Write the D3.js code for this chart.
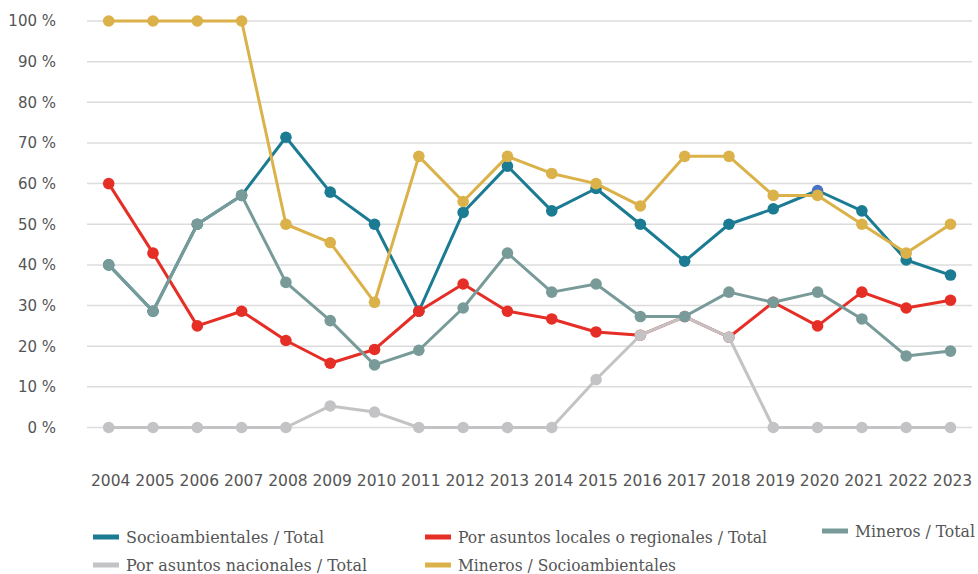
<!DOCTYPE html>
<html><head><meta charset="utf-8">
<script src="https://cdn.jsdelivr.net/npm/d3@7"></script>
<style>body{margin:0;background:#fff}svg{display:block}</style>
</head><body>
<svg id="c" width="978" height="574"></svg>
<script>
const years = [2004,2005,2006,2007,2008,2009,2010,2011,2012,2013,2014,2015,2016,2017,2018,2019,2020,2021,2022,2023];
const yTicks = [0,10,20,30,40,50,60,70,80,90,100];
const socioTotal   = [40,28.6,50,57.1,71.4,57.9,50,28.6,52.9,64.3,53.3,58.8,50,40.9,50,53.8,58.3,53.3,41.2,37.5];
const localesTotal = [60,42.9,25,28.6,21.4,15.8,19.2,28.6,35.3,28.6,26.7,23.5,22.7,27.3,22.2,30.8,25,33.3,29.4,31.3];
const nacionalesTotal = [0,0,0,0,0,5.3,3.8,0,0,0,0,11.8,22.7,27.3,22.2,0,0,0,0,0];
const minerosTotal = [40,28.6,50,57.1,35.7,26.3,15.4,19.0,29.4,42.9,33.3,35.3,27.3,27.3,33.3,30.8,33.3,26.7,17.6,18.8];
const minerosSocio = [100,100,100,100,50,45.5,30.8,66.7,55.6,66.7,62.5,60,54.5,66.7,66.7,57.1,57.1,50,42.9,50];
const seriesNames = ["Socioambientales / Total","Por asuntos locales o regionales / Total","Mineros / Total","Por asuntos nacionales / Total","Mineros / Socioambientales"];

const colors = {teal:"#1a7b93", red:"#e52e26", grey:"#789b99", light:"#c3c3c5", yellow:"#dbb24a"};
const series = [
  {name:seriesNames[0], values:socioTotal, color:colors.teal, special:{16:"#4a74c3"}},
  {name:seriesNames[1], values:localesTotal, color:colors.red},
  {name:seriesNames[3], values:nacionalesTotal, color:colors.light},
  {name:seriesNames[2], values:minerosTotal, color:colors.grey},
  {name:seriesNames[4], values:minerosSocio, color:colors.yellow}
];

const svg = d3.select("#c");
const x = d3.scalePoint().domain(years).range([108.7, 950.5]);
const y = d3.scaleLinear().domain([0,100]).range([427.5, 21]);

// grid
svg.append("g").selectAll("line").data(yTicks).join("line")
  .attr("x1",87).attr("x2",972).attr("y1",d=>y(d)).attr("y2",d=>y(d))
  .attr("stroke","#dcdcdc").attr("stroke-width",1.5);

// y labels
svg.append("g").selectAll("text").data(yTicks).join("text")
  .attr("x",56).attr("y",d=>y(d)).attr("dy","0.36em").attr("text-anchor","end")
  .attr("font-family","DejaVu Sans").attr("font-size",15).attr("fill","#555")
  .text(d=>d+" %");

// x labels
svg.append("g").selectAll("text").data(years).join("text")
  .attr("x",d=>x(d)+2).attr("y",486).attr("text-anchor","middle")
  .attr("font-family","DejaVu Sans").attr("font-size",15.5).attr("fill","#555")
  .text(d=>d);

const line = d3.line().x((d,i)=>x(years[i])).y(d=>y(d));
series.forEach(s=>{
  const g = svg.append("g");
  g.append("path").attr("d",line(s.values)).attr("fill","none")
    .attr("stroke",s.color).attr("stroke-width",3).attr("stroke-linejoin","round");
  g.selectAll("circle").data(s.values).join("circle")
    .attr("cx",(d,i)=>x(years[i])).attr("cy",d=>y(d)).attr("r",5.8)
    .attr("fill",(d,i)=>(s.special && s.special[i]) || s.color);
});

// legend
const legend = [
  {name:seriesNames[0], color:colors.teal, x:93, y:537, w:198},
  {name:seriesNames[1], color:colors.red, x:425, y:537, w:309},
  {name:seriesNames[2], color:colors.grey, x:822, y:531, w:120},
  {name:seriesNames[3], color:colors.light, x:93, y:565, w:241},
  {name:seriesNames[4], color:colors.yellow, x:425, y:565, w:218}
];
const lg = svg.append("g").selectAll("g").data(legend).join("g")
  .attr("transform",d=>`translate(${d.x},${d.y})`);
lg.append("rect").attr("x",0).attr("y",-2.5).attr("width",26).attr("height",5).attr("fill",d=>d.color);
lg.append("text").attr("x",33).attr("y",0).attr("dy","0.35em")
  .attr("font-family","DejaVu Serif Condensed, DejaVu Serif").attr("font-size",17)
  .attr("textLength",d=>d.w).attr("lengthAdjust","spacingAndGlyphs")
  .attr("fill","#555").text(d=>d.name);
</script>
</body></html>
